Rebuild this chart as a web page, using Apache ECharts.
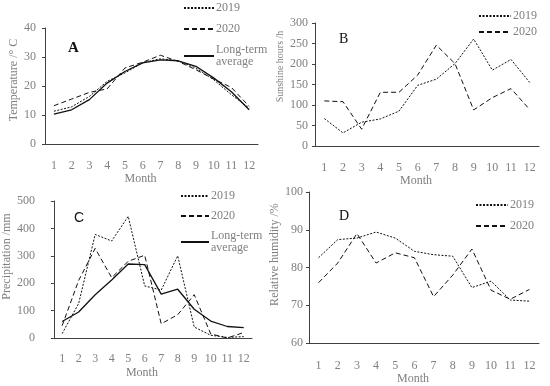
<!DOCTYPE html>
<html><head><meta charset="utf-8">
<script src="https://cdn.jsdelivr.net/npm/echarts@6/dist/echarts.min.js"></script>
<style>html,body{margin:0;padding:0;background:#fff}#c{width:550px;height:386px}</style>
</head><body><div id="c"></div>
<script>
var months = ['1','2','3','4','5','6','7','8','9','10','11','12'];
var temp2019 = [11.3,12.8,16.4,21.6,24.5,28,29.4,28.7,26.2,22.2,17,12.4];
var temp2020 = [13.2,15.5,17.8,19,26.2,28.2,30.6,28.5,25.6,22.4,19.5,13];
var tempAvg  = [10.3,11.8,15.3,21,25,28,29,28.7,26.8,22.8,18,11.8];
var sun2019 = [67,32,58,66,85,148,163,201,261,185,211,155];
var sun2020 = [110,108,41,131,131,173,246,201,88,118,140,89];
var prec2019 = [16,126,378,354,444,190,175,300,40,10,2,5];
var prec2020 = [45,210,327,220,280,302,52,85,158,15,0,20];
var precAvg  = [60,95,158,212,270,268,160,178,105,62,42,38];
var hum2019 = [82.6,87.4,87.8,89.4,87.8,84.3,83.4,83,74.7,76.4,71.4,71.1];
var hum2020 = [76,81.2,89,81.2,83.9,82.6,72.3,78,84.9,74,71.6,74.2];

var SERIF = "'Liberation Serif','Times New Roman',serif";
var GRAY = '#808080';
var AX = '#404040';
var DOT = [2,1.5], DASH = [5,3];

function xAx(i, lm, ng){
  return {type:'category', gridIndex:i, data:months, boundaryGap:true,
    name:'Month', nameLocation:'middle', nameGap:ng,
    nameTextStyle:{fontFamily:SERIF, fontSize:12, color:GRAY, padding:[0,22,0,0]},
    axisLine:{lineStyle:{color:AX}}, axisTick:{alignWithLabel:true, length:3, lineStyle:{color:AX}},
    axisLabel:{fontFamily:SERIF, fontSize:12, color:GRAY, margin:lm}, splitLine:{show:false}};
}
function yAx(i, min, max, itv, name, fs, ng, pad, lm){
  return {type:'value', gridIndex:i, min:min, max:max, interval:itv,
    name:name, nameLocation:'middle', nameGap:ng,
    nameTextStyle:{fontFamily:SERIF, fontSize:fs, color:GRAY, padding:[0,0,0,pad]},
    axisLine:{show:true, lineStyle:{color:AX}}, axisTick:{show:true, length:3, lineStyle:{color:AX}},
    axisLabel:{fontFamily:SERIF, fontSize:12, color:GRAY, margin:lm}, splitLine:{show:false}};
}
function ser(name, i, data, type, w){
  return {name:name, type:'line', xAxisIndex:i, yAxisIndex:i, data:data, symbol:'none', showSymbol:false,
    lineStyle:{color:'#111', width:w||1, type:type}, itemStyle:{color:'#111'}, animation:false};
}
function leg(left, top, names, gap, w){
  return {orient:'vertical', left:left, top:top, data:names, itemGap:gap, itemWidth:w, itemHeight:10,
    selectedMode:false, padding:0,
    itemStyle:{opacity:0, borderWidth:0},
    formatter:function(n){ return n==='Long-term average' ? 'Long-term\naverage' : n; },
    textStyle:{fontFamily:SERIF, fontSize:12, color:GRAY, padding:[0,0,0,-3], lineHeight:12}};
}

var option = {
  backgroundColor:'#fff',
  animation:false,
  grid:[
    {left:45, top:28, width:213, height:116},
    {left:315, top:23, width:224, height:123},
    {left:52, top:201, width:200, height:137},
    {left:309, top:192, width:230, height:152}
  ],
  title:[
    {text:'A', left:63, top:36, textStyle:{fontFamily:SERIF, fontSize:15, fontWeight:'bold', color:'#111'}},
    {text:'B', left:334, top:27, textStyle:{fontFamily:SERIF, fontSize:14, fontWeight:'normal', color:'#111'}},
    {text:'C', left:69, top:206, textStyle:{fontFamily:"'Liberation Sans',sans-serif", fontSize:14, fontWeight:'normal', color:'#111'}},
    {text:'D', left:334, top:204, textStyle:{fontFamily:SERIF, fontSize:14, fontWeight:'normal', color:'#111'}}
  ],
  legend:[
    leg(183, 2, ['2019','2020','Long-term average'], 9, 30),
    leg(478, 10, ['2019','2020'], 4, 32),
    leg(180, 190, ['2019','2020','Long-term average'], 8, 28),
    leg(475, 199, ['2019','2020'], 9, 32)
  ],
  xAxis:[xAx(0,16,27), xAx(1,16,26), xAx(2,15,29), xAx(3,17,27)],
  yAxis:[
    yAx(0,0,40,10,'Temperature /° C',12,24,12,9),
    yAx(1,0,300,50,'Sunshine hours /h',10,30,36,7),
    yAx(2,0,500,100,'Precipitation /mm',12,32,26,19),
    yAx(3,60,100,10,'Relative humidity /%',12,22,26,6)
  ],
  series:[
    ser('2019',0,temp2019,DOT),
    ser('2020',0,temp2020,DASH),
    ser('Long-term average',0,tempAvg,'solid',1.3),
    ser('2019',1,sun2019,DOT),
    ser('2020',1,sun2020,DASH),
    ser('2019',2,prec2019,DOT),
    ser('2020',2,prec2020,DASH),
    ser('Long-term average',2,precAvg,'solid',1.3),
    ser('2019',3,hum2019,DOT),
    ser('2020',3,hum2020,DASH)
  ]
};
var chart = echarts.init(document.getElementById('c'), null, {renderer:'canvas'});
chart.setOption(option);
</script></body></html>
